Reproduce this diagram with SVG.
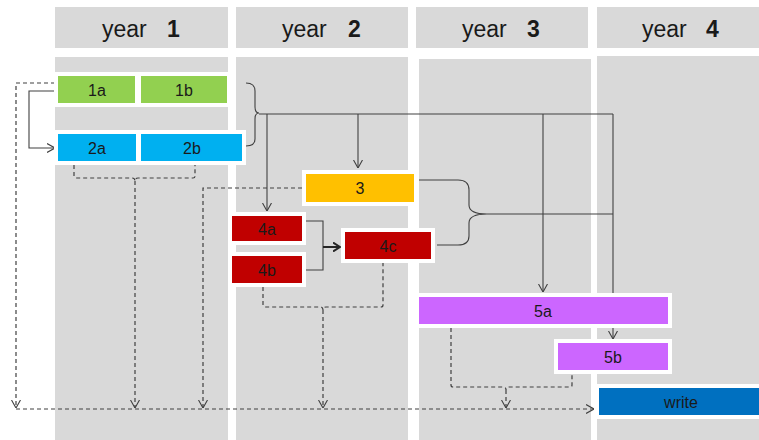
<svg xmlns="http://www.w3.org/2000/svg" width="759" height="440" viewBox="0 0 759 440">
<style>
.col{fill:#d9d9d9}
.hy{font-family:"Liberation Sans",Arial,sans-serif;font-size:23px;fill:#1a1a1a}
.hn{font-family:"Liberation Sans",Arial,sans-serif;font-size:23px;font-weight:bold;fill:#1a1a1a}
.lbl{font-family:"Liberation Sans",Arial,sans-serif;font-size:16px;fill:#1a1a1a;text-anchor:middle}
.node{stroke:#ffffff;stroke-width:4}
.ln{fill:none;stroke:#404040;stroke-width:1.1}
.ds{fill:none;stroke:#404040;stroke-width:1.2;stroke-dasharray:4 3}
.bold{fill:none;stroke:#262626;stroke-width:2}
</style>
<defs>
<marker id="arr" viewBox="0 0 8 10" refX="8" refY="5" markerWidth="8" markerHeight="10" markerUnits="userSpaceOnUse" orient="auto">
<path d="M0,0.5 L8,5 L0,9.5" fill="none" stroke="#404040" stroke-width="1.1"/>
</marker>
<marker id="arrb" viewBox="0 0 8 10" refX="7" refY="5" markerWidth="8" markerHeight="10" markerUnits="userSpaceOnUse" orient="auto">
<path d="M0,0.5 L7,5 L0,9.5" fill="none" stroke="#262626" stroke-width="2"/>
</marker>
</defs>
<rect width="759" height="440" fill="#ffffff"/>
<g id="columns">
<rect class="col" x="55" y="7" width="173" height="41"/>
<rect class="col" x="236" y="7" width="172" height="41"/>
<rect class="col" x="416" y="7" width="172" height="41"/>
<rect class="col" x="597" y="7" width="162" height="41"/>
<rect class="col" x="55" y="57" width="173" height="383"/>
<rect class="col" x="236" y="57" width="172" height="383"/>
<rect class="col" x="419" y="59" width="172" height="381"/>
<rect class="col" x="597" y="56" width="162" height="384"/>
<text class="hy" x="102" y="37">year</text><text class="hn" x="167" y="37">1</text>
<text class="hy" x="282" y="37">year</text><text class="hn" x="348" y="37">2</text>
<text class="hy" x="462" y="37">year</text><text class="hn" x="527" y="37">3</text>
<text class="hy" x="642" y="37">year</text><text class="hn" x="706" y="37">4</text>
</g>
<g id="connectors">
<path class="ln" d="M55,91 L29,91 L29,148 L55,148" marker-end="url(#arr)"/>
<path class="ds" d="M55,83 L16,83 L16,408" marker-end="url(#arr)"/>
<path class="ds" d="M16,409 L594,409" marker-end="url(#arr)"/>
<path class="ds" d="M74,165 L74,176 Q74,178 76,178 L132,178 Q135,178 135,181 Q135,178 138,178 L193,178 Q195,178 195,176 L195,165"/>
<path class="ds" d="M135,181 L135,408" marker-end="url(#arr)"/>
<path class="ds" d="M302,188 L203,188 L203,408" marker-end="url(#arr)"/>
<path class="ds" d="M263,287 L263,305 Q263,307 265,307 L320,307 Q323,307 323,310 Q323,307 326,307 L381,307 Q383,307 383,305 L383,263"/>
<path class="ds" d="M323,310 L323,408" marker-end="url(#arr)"/>
<path class="ds" d="M451,328 L451,385 Q451,387 453,387 L503,387 Q506,387 506,390 Q506,387 509,387 L570,387 Q572,387 572,385 L572,374"/>
<path class="ds" d="M506,390 L506,408" marker-end="url(#arr)"/>
<path class="ln" d="M246,83 Q255,83 255,91 L255,107 Q255,113 259,113 Q255,113 255,119 L255,139 Q255,146 246,146"/>
<path class="ln" d="M259,114 L613,114"/>
<path class="ln" d="M267,114 L267,211" marker-end="url(#arr)"/>
<path class="ln" d="M358,114 L358,168" marker-end="url(#arr)"/>
<path class="ln" d="M543,114 L543,292" marker-end="url(#arr)"/>
<path class="ln" d="M613,114 L613,339" marker-end="url(#arr)"/>
<path class="ln" d="M419,180 L458,180 Q469,180 469,190 L469,205 Q469,214 487,214 Q469,214 469,223 L469,236 Q469,245 458,245 L437,245"/>
<path class="ln" d="M487,214 L613,214"/>
<path class="ln" d="M306,221 L323,221 L323,270 L306,270"/>
<path class="bold" d="M323,247 L340,247" marker-end="url(#arrb)"/>
</g>
<g id="node-1a"><rect class="node" x="56" y="74" width="81" height="31" fill="#92d050"/><text class="lbl" x="97" y="95.5">1a</text></g>
<g id="node-1b"><rect class="node" x="139" y="74" width="90" height="31" fill="#92d050"/><text class="lbl" x="184" y="95.5">1b</text></g>
<g id="node-2a"><rect class="node" x="56" y="132" width="82" height="31" fill="#00b0f0"/><text class="lbl" x="97" y="153.5">2a</text></g>
<g id="node-2b"><rect class="node" x="139" y="132" width="105" height="31" fill="#00b0f0"/><text class="lbl" x="192" y="153.5">2b</text></g>
<g id="node-3"><rect class="node" x="304" y="172" width="112" height="32" fill="#ffc000"/><text class="lbl" x="360" y="193.5">3</text></g>
<g id="node-4a"><rect class="node" x="230" y="214" width="74" height="29" fill="#c00000"/><text class="lbl" x="267" y="234.5">4a</text></g>
<g id="node-4b"><rect class="node" x="230" y="254" width="74" height="31" fill="#c00000"/><text class="lbl" x="267" y="275.5">4b</text></g>
<g id="node-4c"><rect class="node" x="343" y="230" width="90" height="31" fill="#c00000"/><text class="lbl" x="388" y="251.5">4c</text></g>
<g id="node-5a"><rect class="node" x="417" y="295" width="253" height="31" fill="#cc66ff"/><text class="lbl" x="543" y="316.5">5a</text></g>
<g id="node-5b"><rect class="node" x="556" y="341" width="114" height="31" fill="#cc66ff"/><text class="lbl" x="613" y="362.5">5b</text></g>
<g id="node-write"><rect class="node" x="597" y="386" width="166" height="31" fill="#0070c0"/><text class="lbl" x="681" y="407.5">write</text></g>
</svg>
